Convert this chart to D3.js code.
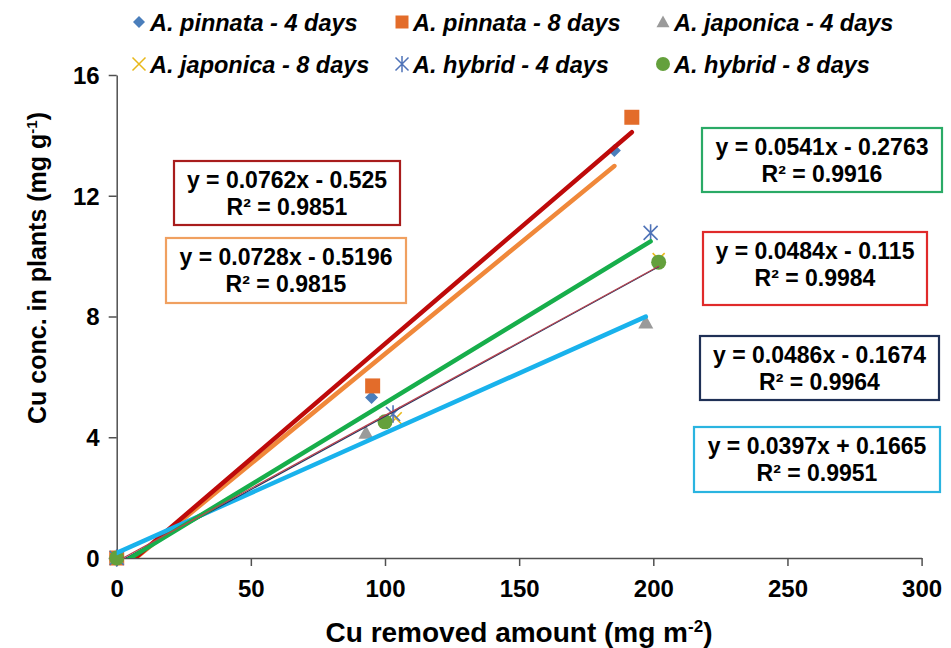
<!DOCTYPE html>
<html><head><meta charset="utf-8">
<script src="https://cdn.jsdelivr.net/npm/d3@7"></script>
<style>
body{margin:0;background:#fff}
svg text{font-family:"Liberation Sans",Arial,sans-serif;font-weight:bold;fill:#000}
</style>
</head><body>
<svg id="chart" width="951" height="648"></svg>
<script>
// ---------- data ----------
const seriesNames = ["A. pinnata - 4 days","A. pinnata - 8 days","A. japonica - 4 days","A. japonica - 8 days","A. hybrid - 4 days","A. hybrid - 8 days"];
const xPinnata4 = [0, 95.0, 185.5];   const yPinnata4 = [0, 5.32, 13.5];
const xPinnata8 = [0, 95.4, 192.0];   const yPinnata8 = [0, 5.70, 14.6];
const xJaponica4 = [0, 92.9, 197.2];  const yJaponica4 = [0, 4.15, 7.80];
const xJaponica8 = [0, 104.0, 202.0]; const yJaponica8 = [0, 4.63, 9.90];
const xHybrid4 = [0, 103.0, 199.0];   const yHybrid4 = [0, 4.77, 10.77];
const xHybrid8 = [0, 100.0, 202.0];   const yHybrid8 = [0, 4.51, 9.80];
const slopes = [0.0728, 0.0762, 0.0397, 0.0486, 0.0541, 0.0484];
const intercepts = [-0.5196, -0.525, 0.1665, -0.1674, -0.2763, -0.115];
const rSquared = ["0.9815","0.9851","0.9951","0.9964","0.9916","0.9984"];
const equationLabels = ["y = 0.0728x - 0.5196","y = 0.0762x - 0.525","y = 0.0397x + 0.1665","y = 0.0486x - 0.1674","y = 0.0541x - 0.2763","y = 0.0484x - 0.115"];
const xTicks = [0, 50, 100, 150, 200, 250, 300];
const yTicks = [0, 4, 8, 12, 16];

// ---------- styles / layout ----------
const markerColors = ["#4A7EBB","#E36C2A","#9A9A9A","#E8B81A","#4F73B8","#64A03C"];
const markerShapes = ["diamond","square","triangle","x","asterisk","circle"];
const trendColors = ["#F0883A","#BE0A0A","#19B2EC","#1F3864","#17AE4B","#B8434E"];
const trendWidths = [4.5, 4.5, 4.5, 1.2, 4.5, 1.2];
const boxBorders = ["#F0A060","#A81C1C","#2AB4E0","#1F3056","#2AAA66","#E02A2A"];
const boxRects = [[166,238,406,303],[174,161,400,225],[694,427,940,492],[700,336,939,400],[702,128,942,192],[703,232,927,305]];

const allX = [xPinnata4,xPinnata8,xJaponica4,xJaponica8,xHybrid4,xHybrid8];
const allY = [yPinnata4,yPinnata8,yJaponica4,yJaponica8,yHybrid4,yHybrid8];
const series = seriesNames.map((name,i)=>({
  name, color: markerColors[i], shape: markerShapes[i],
  points: allX[i].map((xv,j)=>({x: xv, y: allY[i][j]})),
  slope: slopes[i], intercept: intercepts[i], r2: rSquared[i], eq: equationLabels[i],
  trendColor: trendColors[i], trendWidth: trendWidths[i], box: boxRects[i], boxColor: boxBorders[i]
}));

const svg = d3.select("#chart");
const pLeft = 116.7, pRight = 921.6, pTop = 75, pBottom = 558;
const x = d3.scaleLinear().domain([0,300]).range([pLeft,pRight]);
const y = d3.scaleLinear().domain([0,16]).range([pBottom,pTop]);

function markerPath(shape, s){
  const h = s/2;
  switch(shape){
    case "diamond": return `M0,${-h}L${h},0L0,${h}L${-h},0Z`;
    case "square": return `M${-h},${-h}H${h}V${h}H${-h}Z`;
    case "triangle": return `M0,${-h}L${h},${h*0.8}L${-h},${h*0.8}Z`;
    case "x": return `M${-h},${-h}L${h},${h}M${-h},${h}L${h},${-h}`;
    case "asterisk": return `M${-h},${-h}L${h},${h}M${-h},${h}L${h},${-h}M0,${-h*1.25}V${h*1.25}`;
    case "circle": return d3.arc()({innerRadius:0,outerRadius:h,startAngle:0,endAngle:2*Math.PI});
  }
}
const markerSize = {diamond:13, square:15, triangle:15, x:12, asterisk:14, circle:15};
const legendSize = {diamond:12, square:13, triangle:13, x:13, asterisk:13, circle:14};
function isStroke(shape){ return shape==="x" || shape==="asterisk"; }

// axes
const axisColor = "#505050";
const xAxis = svg.append("g").attr("transform",`translate(0,${pBottom})`)
  .call(d3.axisBottom(x).tickValues(xTicks).tickSize(8).tickPadding(9).tickSizeOuter(0));
const yAxis = svg.append("g").attr("transform",`translate(${pLeft},0)`)
  .call(d3.axisLeft(y).tickValues(yTicks).tickSize(8).tickPadding(9).tickSizeOuter(0));
[xAxis,yAxis].forEach(a=>{
  a.selectAll("path,line").attr("stroke",axisColor).attr("stroke-width",1.5);
  a.selectAll("text").style("font-size","24px").style("font-family",'"Liberation Sans",Arial,sans-serif').style("font-weight","bold").attr("fill","#000");
});
xAxis.selectAll("text").attr("dy","0.9em");
yAxis.selectAll("text").attr("dy","0.35em");

// markers
series.forEach(s=>{
  svg.append("g").selectAll("path").data(s.points).join("path")
    .attr("transform",d=>`translate(${x(d.x)},${y(d.y)})`)
    .attr("d",markerPath(s.shape, markerSize[s.shape]))
    .attr("fill", isStroke(s.shape)?"none":s.color)
    .attr("stroke", isStroke(s.shape)?s.color:"none")
    .attr("stroke-width",1.6);
});

// trendlines (clipped to plot area)
svg.append("clipPath").attr("id","plotclip").append("rect")
  .attr("x",pLeft).attr("y",pTop-20).attr("width",pRight-pLeft).attr("height",pBottom-pTop+20);
const tg = svg.append("g").attr("clip-path","url(#plotclip)");
series.forEach(s=>{
  const xmax = d3.max(s.points,d=>d.x);
  const pts = [0, xmax].map(v=>[x(v), y(s.slope*v + s.intercept)]);
  tg.append("path").attr("d",d3.line()(pts))
    .attr("stroke",s.trendColor).attr("stroke-width",s.trendWidth).attr("fill","none")
    .attr("stroke-linecap","round");
});

// equation boxes
series.forEach(s=>{
  const [x0,y0,x1,y1] = s.box;
  const g = svg.append("g");
  g.append("rect").attr("x",x0).attr("y",y0).attr("width",x1-x0).attr("height",y1-y0)
    .attr("fill","#fff").attr("stroke",s.boxColor).attr("stroke-width",2.2);
  const cx = (x0+x1)/2;
  g.append("text").attr("x",cx).attr("y",y0+27).attr("text-anchor","middle").style("font-size","23px").text(s.eq);
  g.append("text").attr("x",cx).attr("y",y0+54).attr("text-anchor","middle").style("font-size","23px").text("R² = "+s.r2);
});

// legend
const legendX = [139, 402, 663];
const legendY = [22, 64];
series.forEach((s,i)=>{
  const lx = legendX[i%3], ly = legendY[Math.floor(i/3)];
  svg.append("path").attr("transform",`translate(${lx},${ly})`)
    .attr("d",markerPath(s.shape, legendSize[s.shape]))
    .attr("fill", isStroke(s.shape)?"none":s.color)
    .attr("stroke", isStroke(s.shape)?s.color:"none").attr("stroke-width",1.5);
  svg.append("text").attr("x",lx+11).attr("y",ly+8.5)
    .style("font-size","23.5px").style("font-style","italic").text(s.name);
});

// axis titles
svg.append("text").attr("x",519).attr("y",642).attr("text-anchor","middle").style("font-size","28px")
  .html('Cu removed amount (mg m<tspan dy="-10" style="font-size:17px">-2</tspan><tspan dy="10">)</tspan>');
svg.append("text").attr("transform","translate(46,268) rotate(-90)").attr("text-anchor","middle").style("font-size","25px")
  .html('Cu conc. in plants (mg g<tspan dy="-9" style="font-size:15px">-1</tspan><tspan dy="9">)</tspan>');
</script>
</body></html>
